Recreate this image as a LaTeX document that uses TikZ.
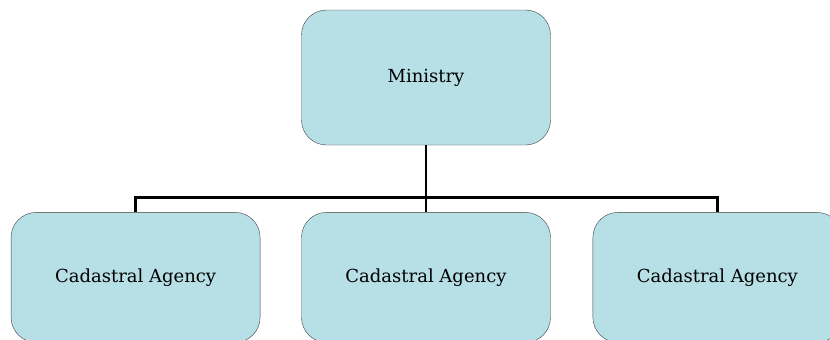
\documentclass[tikz,border=0pt]{standalone}
\usepackage{fontspec}
\setmainfont{DejaVu Serif}
\usetikzlibrary{positioning}
\definecolor{boxblue}{RGB}{183,223,230}
\tikzstyle{unit} = [draw=black!75, fill=boxblue, rounded corners=25pt,
    minimum width=249pt, minimum height=135pt, font=\fontsize{18}{21}\selectfont]
\tikzstyle{link} = [line width=2.8pt, black]

\begin{document}
\begin{tikzpicture}[node distance=41pt]
        \useasboundingbox (0,0) rectangle (830pt,-340pt);
        \clip (0,0) rectangle (830pt,-340pt);

        \node[unit] at (426pt,-77.5pt) (ministry){Ministry};

        \node[
            unit,
            below=67pt of ministry,
            minimum height=130pt
        ](agencyB){Cadastral Agency};

        \node[
            unit,
            left=of agencyB,
            minimum height=130pt
        ](agencyA){Cadastral Agency};

        \node[
            unit,
            right=42pt of agencyB,
            minimum height=130pt
        ](agencyC){Cadastral Agency};

        \coordinate[below=52pt of ministry.south] (bus);

        \draw[link] (ministry.south) -- (agencyB.north);
        \draw[link] (agencyA.north) |- (bus) -| (agencyC.north);
    \end{tikzpicture}
\end{document}
